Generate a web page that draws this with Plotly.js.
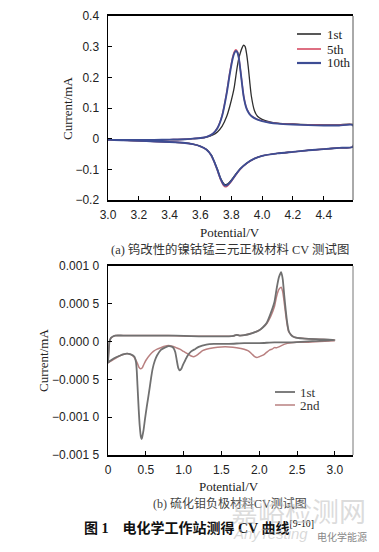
<!DOCTYPE html>
<html>
<head>
<meta charset="utf-8">
<script src="https://cdn.plot.ly/plotly-3.0.1.min.js"></script>
<style>
html,body{margin:0;padding:0;background:#fff;}
#chart{width:379px;height:552px;}
</style>
</head>
<body>
<div id="chart"></div>
<script>
// ---------- Panel (a): W-modified NCM cathode, cycles 1st / 5th / 10th ----------
const seriesA = ["1st", "5th", "10th"];
// anodic sweep potentials (V), shared by all cycles
const aAnodicX = [3.0, 3.1, 3.2, 3.3, 3.4, 3.5, 3.55, 3.6, 3.64, 3.68, 3.71, 3.74, 3.77, 3.79, 3.81, 3.82, 3.83, 3.84, 3.85, 3.86, 3.87, 3.88, 3.89, 3.9, 3.91, 3.92, 3.93, 3.95, 3.97, 4.0, 4.05, 4.1, 4.2, 4.3, 4.4, 4.5, 4.59];
const a1stAnodicY = [-0.004, -0.004, -0.004, -0.004, -0.003, -0.002, 0.0, 0.002, 0.005, 0.012, 0.022, 0.04, 0.072, 0.105, 0.145, 0.17, 0.205, 0.238, 0.264, 0.282, 0.296, 0.305, 0.3, 0.275, 0.235, 0.185, 0.14, 0.092, 0.073, 0.063, 0.055, 0.051, 0.048, 0.046, 0.045, 0.045, 0.046];
const a5thAnodicY = [-0.004, -0.004, -0.004, -0.004, -0.003, -0.002, 0.0, 0.002, 0.006, 0.016, 0.035, 0.075, 0.15, 0.215, 0.268, 0.284, 0.29, 0.284, 0.262, 0.222, 0.18, 0.14, 0.115, 0.098, 0.088, 0.08, 0.075, 0.068, 0.063, 0.058, 0.053, 0.05, 0.047, 0.045, 0.044, 0.044, 0.045];
const a10thAnodicY = [-0.004, -0.004, -0.004, -0.004, -0.003, -0.002, 0.0, 0.002, 0.006, 0.016, 0.034, 0.073, 0.147, 0.21, 0.263, 0.279, 0.286, 0.281, 0.26, 0.22, 0.178, 0.139, 0.114, 0.097, 0.087, 0.079, 0.074, 0.067, 0.062, 0.057, 0.052, 0.049, 0.046, 0.044, 0.043, 0.043, 0.044];
// cathodic sweep potentials (V), from 4.59 back to 3.0
const aCathodicX = [4.59, 4.5, 4.4, 4.3, 4.2, 4.1, 4.0, 3.95, 3.9, 3.86, 3.83, 3.8, 3.78, 3.77, 3.76, 3.75, 3.73, 3.71, 3.69, 3.67, 3.64, 3.6, 3.55, 3.5, 3.4, 3.3, 3.2, 3.1, 3.0];
const a1stCathodicY = [-0.026, -0.03, -0.034, -0.038, -0.043, -0.048, -0.056, -0.065, -0.08, -0.097, -0.115, -0.135, -0.146, -0.149, -0.15, -0.146, -0.128, -0.1, -0.075, -0.053, -0.035, -0.025, -0.018, -0.014, -0.011, -0.009, -0.007, -0.005, -0.004];
const a5thCathodicY = [-0.026, -0.03, -0.034, -0.038, -0.043, -0.048, -0.056, -0.065, -0.081, -0.099, -0.118, -0.14, -0.152, -0.156, -0.157, -0.153, -0.133, -0.104, -0.077, -0.055, -0.036, -0.025, -0.018, -0.014, -0.011, -0.009, -0.007, -0.005, -0.004];
const a10thCathodicY = [-0.026, -0.03, -0.034, -0.038, -0.043, -0.048, -0.056, -0.065, -0.08, -0.098, -0.117, -0.138, -0.149, -0.152, -0.153, -0.149, -0.13, -0.102, -0.076, -0.054, -0.036, -0.025, -0.018, -0.014, -0.011, -0.009, -0.007, -0.005, -0.004];
const aXTicks = [3.0, 3.2, 3.4, 3.6, 3.8, 4.0, 4.2, 4.4];
const aXTickText = ["3.0", "3.2", "3.4", "3.6", "3.8", "4.0", "4.2", "4.4"];
const aYTicks = [-0.2, -0.1, 0, 0.1, 0.2, 0.3, 0.4];
const aYTickText = ["\u22120.2", "\u22120.1", "0", "0.1", "0.2", "0.3", "0.4"];

// ---------- Panel (b): MoS2 anode, cycles 1st / 2nd ----------
const seriesB = ["1st", "2nd"];
const bAnodicX = [0.0, 0.01, 0.02, 0.04, 0.07, 0.1, 0.2, 0.4, 0.6, 0.8, 1.0, 1.2, 1.4, 1.6, 1.66, 1.7, 1.74, 1.8, 1.9, 2.0, 2.05, 2.1, 2.15, 2.2, 2.23, 2.26, 2.29, 2.31, 2.33, 2.35, 2.37, 2.39, 2.42, 2.46, 2.5, 2.6, 2.8, 3.0];
const b1stAnodicY = [-0.00028, -0.00012, 0.0, 0.00005, 0.00007, 0.00008, 0.00008, 0.00008, 0.00008, 0.00008, 0.000075, 0.00007, 0.00007, 0.00007, 0.000075, 0.00009, 0.00008, 0.000085, 0.00011, 0.00015, 0.00019, 0.00025, 0.00037, 0.00052, 0.0007, 0.00085, 0.00092, 0.00083, 0.00062, 0.00042, 0.00025, 0.00014, 0.00009, 0.00006, 0.00005, 0.00004, 0.00003, 0.00002];
const b2ndAnodicY = [-0.00028, -0.00012, 0.0, 0.00005, 0.00007, 0.00008, 0.00008, 0.00008, 0.00008, 0.00008, 0.000075, 0.00007, 0.00007, 0.00007, 0.000075, 0.00009, 0.00008, 0.000085, 0.00011, 0.00015, 0.00019, 0.00024, 0.00033, 0.00046, 0.0006, 0.00069, 0.00072, 0.00066, 0.00052, 0.00036, 0.00022, 0.00013, 0.00009, 0.00006, 0.00005, 0.00004, 0.00003, 0.00002];
const b1stCathodicX = [3.0, 2.8, 2.6, 2.4, 2.2, 2.0, 1.8, 1.6, 1.4, 1.3, 1.2, 1.15, 1.1, 1.05, 1.02, 0.99, 0.97, 0.95, 0.93, 0.91, 0.89, 0.87, 0.85, 0.8, 0.75, 0.7, 0.65, 0.62, 0.59, 0.57, 0.55, 0.53, 0.51, 0.49, 0.47, 0.455, 0.445, 0.435, 0.42, 0.405, 0.39, 0.38, 0.37, 0.35, 0.3, 0.25, 0.2, 0.15, 0.1, 0.05, 0.02, 0.0];
const b1stCathodicY = [0.00002, 0.00001, 0.0, -0.00001, -0.00001, -0.00002, -0.00002, -0.00003, -0.00003, -0.00004, -0.00007, -0.0001, -0.00013, -0.00019, -0.00025, -0.00031, -0.00036, -0.00038, -0.00035, -0.00025, -0.00014, -0.00009, -0.00007, -0.00006, -0.00008, -0.00011, -0.00018, -0.00025, -0.00036, -0.00048, -0.00062, -0.00075, -0.00088, -0.00102, -0.00117, -0.00125, -0.00129, -0.00126, -0.00112, -0.00088, -0.00058, -0.00038, -0.00027, -0.0002, -0.00017, -0.00016, -0.00017, -0.00019, -0.00021, -0.00024, -0.00026, -0.00028];
const b2ndCathodicX = [3.0, 2.8, 2.6, 2.5, 2.4, 2.35, 2.3, 2.26, 2.23, 2.2, 2.17, 2.14, 2.1, 2.05, 2.0, 1.97, 1.94, 1.9, 1.85, 1.8, 1.7, 1.6, 1.5, 1.4, 1.3, 1.25, 1.2, 1.16, 1.13, 1.1, 1.05, 1.0, 0.95, 0.9, 0.85, 0.8, 0.75, 0.7, 0.65, 0.6, 0.55, 0.5, 0.47, 0.45, 0.43, 0.41, 0.39, 0.36, 0.33, 0.3, 0.27, 0.24, 0.2, 0.15, 0.1, 0.05, 0.0];
const b2ndCathodicY = [0.00001, 0.0, -0.00001, -0.00001, -0.00002, -0.00003, -0.00005, -0.00007, -0.00008, -0.00008, -0.0001, -0.00011, -0.00014, -0.00018, -0.0002, -0.00021, -0.0002, -0.00016, -0.00012, -0.0001, -0.00008, -0.00007, -0.00007, -0.00008, -0.0001, -0.00012, -0.00016, -0.00019, -0.0002, -0.00019, -0.00016, -0.00013, -0.0001, -0.00008, -0.00006, -0.00005, -0.00006, -0.00008, -0.0001, -0.00013, -0.00018, -0.00025, -0.00031, -0.00035, -0.00036, -0.00034, -0.00029, -0.00023, -0.00019, -0.00017, -0.00016, -0.00016, -0.00017, -0.00019, -0.00022, -0.00025, -0.00028];
const bXTicks = [0, 0.5, 1.0, 1.5, 2.0, 2.5, 3.0];
const bXTickText = ["0", "0.5", "1.0", "1.5", "2.0", "2.5", "3.0"];
const bYTicks = [-0.0015, -0.001, -0.0005, 0, 0.0005, 0.001];
const bYTickText = ["\u22120.001 5", "\u22120.001 0", "\u22120.000 5", "0.000 0", "0.000 5", "0.001 0"];

// ---------- styling ----------
const W = 379, H = 552;
const X = p => p / W;
const Y = p => 1 - p / H;
const colorsA = ["#2e2e2e", "#d8566c", "#3d4d94"];
const widthsA = [1.3, 1.4, 1.9];
const colorsB = ["#707070", "#b98080"];
const widthsB = [1.8, 1.5];
const serif = "Liberation Serif, Times New Roman, serif";
const sans = "Liberation Sans, Arial, sans-serif";
const cjk = "Liberation Serif, Noto Sans CJK SC, serif";

const aX = [aAnodicX.concat(aCathodicX), aAnodicX.concat(aCathodicX), aAnodicX.concat(aCathodicX)];
const aY = [a1stAnodicY.concat(a1stCathodicY), a5thAnodicY.concat(a5thCathodicY), a10thAnodicY.concat(a10thCathodicY)];
const bX = [b1stCathodicX.concat(bAnodicX), b2ndCathodicX.concat(bAnodicX)];
const bY = [b1stCathodicY.concat(b1stAnodicY), b2ndCathodicY.concat(b2ndAnodicY)];

const traces = [];
seriesA.forEach((n, i) => traces.push({
  type: "scatter", mode: "lines", name: n, x: aX[i], y: aY[i],
  xaxis: "x", yaxis: "y", line: {color: colorsA[i], width: widthsA[i], shape: "spline", smoothing: 0.6},
  showlegend: false, hoverinfo: "skip"
}));
// draw 2nd first, 1st on top
[1, 0].forEach(i => traces.push({
  type: "scatter", mode: "lines", name: seriesB[i], x: bX[i], y: bY[i],
  xaxis: "x2", yaxis: "y2", line: {color: colorsB[i], width: widthsB[i], shape: "spline", smoothing: 0.6},
  showlegend: false, hoverinfo: "skip"
}));

const axisCommon = {
  showgrid: false, zeroline: false, showline: true, linecolor: "#000",
  ticks: "inside", ticklen: 4, tickwidth: 1, tickcolor: "#000",
  tickfont: {family: sans, size: 12, color: "#222"}
};

const pxA = {l: 108, r: 353, t: 16, b: 200};
const pxB = {l: 108, r: 353, t: 266, b: 455};

const shapes = [
  {type: "line", xref: "paper", yref: "paper", x0: X(pxA.r), x1: X(pxA.r), y0: Y(pxA.t), y1: Y(pxA.b), line: {color: "#555", width: 1}},
  {type: "line", xref: "paper", yref: "paper", x0: X(pxB.r), x1: X(pxB.r), y0: Y(pxB.t), y1: Y(pxB.b), line: {color: "#777", width: 1}}
];
const annotations = [];
function txt(text, x, y, opts) {
  annotations.push(Object.assign({
    text: text, xref: "paper", yref: "paper", x: X(x), y: Y(y),
    showarrow: false, xanchor: "center", yanchor: "middle",
    font: {family: serif, size: 13, color: "#222"}
  }, opts || {}));
}
// legend (a)
const legRowsA = [34, 49, 63];
seriesA.forEach((n, i) => {
  shapes.push({type: "line", xref: "paper", yref: "paper", x0: X(297), x1: X(321), y0: Y(legRowsA[i]), y1: Y(legRowsA[i]), line: {color: colorsA[i], width: widthsA[i] + 0.3}});
  txt(n, 325, legRowsA[i], {xanchor: "left", font: {family: serif, size: 13, color: "#222"}});
});
// legend (b)
const legRowsB = [392, 405];
seriesB.forEach((n, i) => {
  shapes.push({type: "line", xref: "paper", yref: "paper", x0: X(275), x1: X(295), y0: Y(legRowsB[i]), y1: Y(legRowsB[i]), line: {color: colorsB[i], width: widthsB[i]}});
  txt(n, 298, legRowsB[i], {xanchor: "left", font: {family: serif, size: 13, color: "#333"}});
});
// axis titles
txt("Current/mA", 67, 109, {textangle: -90});
txt("Potential/V", 230, 232);
txt("Current/mA", 43, 361, {textangle: -90});
txt("Potential/V", 229, 486);
// captions
txt("(a) 钨改性的镍钴锰三元正极材料 CV 测试图", 230, 249, {font: {family: cjk, size: 12.4, color: "#333"}});
txt("(b) 硫化钼负极材料CV测试图", 230, 503, {font: {family: cjk, size: 12, color: "#444"}});
txt("<b>图 1　电化学工作站测得 CV 曲线</b><sup>[9-10]</sup>", 82, 527, {xanchor: "left", font: {family: cjk, size: 14, color: "#111"}});
// watermark
txt("嘉峪检测网", 298, 510, {font: {family: "Noto Sans CJK SC, sans-serif", size: 27, color: "rgba(190,190,190,0.55)"}});
txt("<i>AnyTesting</i>", 270, 533, {font: {family: sans, size: 15, color: "rgba(185,185,185,0.55)"}});
txt("电化学能源", 342, 536, {font: {family: "Noto Sans CJK SC, sans-serif", size: 10, color: "#888"}});

const layout = {
  width: W, height: H, margin: {l: 0, r: 0, t: 0, b: 0},
  paper_bgcolor: "#fff", plot_bgcolor: "#fff", showlegend: false,
  xaxis: Object.assign({}, axisCommon, {
    domain: [X(pxA.l), X(pxA.r)], anchor: "y", range: [3.0, 4.59],
    tickvals: aXTicks, ticktext: aXTickText, linewidth: 2, mirror: true, ticklabelstandoff: 3
  }),
  yaxis: Object.assign({}, axisCommon, {
    domain: [Y(pxA.b), Y(pxA.t)], anchor: "x", range: [-0.2, 0.4],
    tickvals: aYTicks, ticktext: aYTickText, linewidth: 1.5, ticklabelstandoff: 5
  }),
  xaxis2: Object.assign({}, axisCommon, {
    domain: [X(pxB.l), X(pxB.r)], anchor: "y2", range: [0, 3.24],
    tickvals: bXTicks, ticktext: bXTickText, linewidth: 2, mirror: true, ticklabelstandoff: 3
  }),
  yaxis2: Object.assign({}, axisCommon, {
    domain: [Y(pxB.b), Y(pxB.t)], anchor: "x2", range: [-0.0015, 0.001],
    tickvals: bYTicks, ticktext: bYTickText, linewidth: 1.5, ticklabelstandoff: 5
  }),
  shapes: shapes, annotations: annotations
};

Plotly.newPlot("chart", traces, layout, {staticPlot: true, displayModeBar: false});
</script>
</body>
</html>
